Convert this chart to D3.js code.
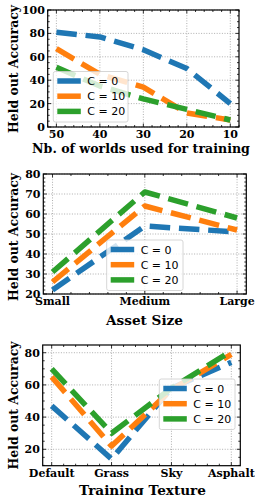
<!DOCTYPE html>
<html>
<head>
<meta charset="utf-8">
<script src="https://cdn.jsdelivr.net/npm/d3@7/dist/d3.min.js"></script>
<style>
  html, body { margin: 0; padding: 0; background: #fff; }
  svg { display: block; }
</style>
</head>
<body>
<svg id="chart" width="255" height="495"></svg>
<script>
// ---------- DATA ----------
const seriesNames = ["C = 0", "C = 10", "C = 20"];
const seriesColors = ["#1f77b4", "#ff7f0e", "#2ca02c"];

// Panel 1: number of worlds
const worlds = [50, 40, 30, 20, 10];
const worldsC0 = [81, 77, 66, 50, 20];
const worldsC10 = [67, 45, 34, 12, 6];
const worldsC20 = [51, 35, 24, 15, 6];
const worldsYTicks = [0, 20, 40, 60, 80, 100];
const worldsXTicks = [50, 40, 30, 20, 10];

// Panel 2: asset size
const assetSizes = ["Small", "Medium", "Large"];
const assetC0 = [22, 54, 51];
const assetC10 = [26, 64, 52];
const assetC20 = [31, 71, 58];
const assetYTicks = [20, 30, 40, 50, 60, 70, 80];

// Panel 3: training texture
const textures = ["Default", "Grass", "Sky", "Asphalt"];
const textureC0 = [47, 14, 58, 74];
const textureC10 = [65, 22, 57, 79];
const textureC20 = [70, 30, 58, 81];
const textureYTicks = [20, 40, 60, 80];

const yLabel = "Held out Accuracy";

// ---------- LAYOUT ----------
const panels = [
  {
    id: "p1", left: 47.7, right: 239, top: 10, bottom: 127,
    xDomain: [52, 8], yDomain: [0, 100],
    xVals: worlds, series: [worldsC0, worldsC10, worldsC20],
    xTicks: worldsXTicks, xFmt: d => d, yTicks: worldsYTicks,
    xMinor: 2, yMinor: 5,
    xLabel: "Nb. of worlds used for training", xLabelY: 152.5, xLabelW: 218, xLabelCx: 141,
    yLabelCy: 69, yLabelW: 128,
    legend: { x: 53.3, y: 71.5, w: 74.7, h: 50.5 }
  },
  {
    id: "p2", left: 43.3, right: 246.3, top: 174, bottom: 294,
    xDomain: [-0.1, 2.1], yDomain: [20, 80],
    xVals: assetSizes.map((d, i) => i), series: [assetC0, assetC10, assetC20],
    xTicks: assetSizes.map((d, i) => i), xFmt: i => assetSizes[i], yTicks: assetYTicks,
    xMinor: 0.2, yMinor: 2,
    xLabel: "Asset Size", xLabelY: 325, xLabelW: 77, xLabelCx: 144.5,
    yLabelCy: 237, yLabelW: 128,
    legend: { x: 106.7, y: 240, w: 76.3, h: 50.5 }
  },
  {
    id: "p3", left: 42.7, right: 240.3, top: 345, bottom: 465.7,
    xDomain: [-0.15, 3.15], yDomain: [9.8, 84.8],
    xVals: textures.map((d, i) => i), series: [textureC0, textureC10, textureC20],
    xTicks: textures.map((d, i) => i), xFmt: i => textures[i], yTicks: textureYTicks,
    xMinor: 0.2, yMinor: 5,
    xLabel: "Training Texture", xLabelY: 494.5, xLabelW: 127, xLabelCx: 142.5,
    yLabelCy: 405.5, yLabelW: 128,
    legend: { x: 159.3, y: 379, w: 75.7, h: 50.5 }
  }
];

const svg = d3.select("#chart");
const serif = "'DejaVu Serif', serif";
const sans = "'DejaVu Sans', sans-serif";

function minorTicks(domain, step, majors) {
  const lo = Math.min(domain[0], domain[1]), hi = Math.max(domain[0], domain[1]);
  const out = [];
  const start = Math.ceil(lo / step - 1e-9);
  for (let k = start; k * step <= hi + 1e-9; k++) {
    const v = +(k * step).toFixed(6);
    if (!majors.some(m => Math.abs(m - v) < 1e-6)) out.push(v);
  }
  return out;
}

function fitText(sel, baseSize, targetW) {
  sel.attr("font-size", baseSize);
  const w = sel.node().getComputedTextLength();
  if (w > 0) sel.attr("font-size", (baseSize * targetW / w).toFixed(2));
}

panels.forEach(p => {
  const x = d3.scaleLinear().domain(p.xDomain).range([p.left, p.right]);
  const y = d3.scaleLinear().domain(p.yDomain).range([p.bottom, p.top]);
  const g = svg.append("g").attr("class", p.id);

  // grid (dotted)
  g.append("g").selectAll("line").data(p.xTicks).join("line")
    .attr("x1", d => x(d)).attr("x2", d => x(d))
    .attr("y1", p.top).attr("y2", p.bottom)
    .attr("stroke", "#9a9a9a").attr("stroke-width", 0.8)
    .attr("stroke-dasharray", "1,1.6");
  g.append("g").selectAll("line").data(p.yTicks).join("line")
    .attr("x1", p.left).attr("x2", p.right)
    .attr("y1", d => y(d)).attr("y2", d => y(d))
    .attr("stroke", "#9a9a9a").attr("stroke-width", 0.8)
    .attr("stroke-dasharray", "1,1.6");

  // clip
  const clipId = "clip-" + p.id;
  svg.append("defs").append("clipPath").attr("id", clipId)
    .append("rect").attr("x", p.left).attr("y", p.top)
    .attr("width", p.right - p.left).attr("height", p.bottom - p.top);

  // lines
  const line = d3.line().x((d, i) => x(p.xVals[i])).y(d => y(d));
  const lg = g.append("g").attr("clip-path", `url(#${clipId})`);
  p.series.forEach((s, si) => {
    lg.append("path").datum(s).attr("d", line)
      .attr("fill", "none").attr("stroke", seriesColors[si])
      .attr("stroke-width", 5.5).attr("stroke-dasharray", "20.5,8.8")
      .attr("stroke-linecap", "butt").attr("stroke-linejoin", "round");
  });

  // ticks inward on all four sides
  const majorLen = 3.5, minorLen = 2;
  const xm = minorTicks(p.xDomain, p.xMinor, p.xTicks);
  const ym = minorTicks(p.yDomain, p.yMinor, p.yTicks);
  const tk = g.append("g").attr("stroke", "#000").attr("stroke-width", 0.8);
  [[p.xTicks, majorLen], [xm, minorLen]].forEach(([arr, len]) => {
    arr.forEach(v => {
      tk.append("line").attr("x1", x(v)).attr("x2", x(v)).attr("y1", p.bottom).attr("y2", p.bottom - len);
      tk.append("line").attr("x1", x(v)).attr("x2", x(v)).attr("y1", p.top).attr("y2", p.top + len);
    });
  });
  [[p.yTicks, majorLen], [ym, minorLen]].forEach(([arr, len]) => {
    arr.forEach(v => {
      tk.append("line").attr("y1", y(v)).attr("y2", y(v)).attr("x1", p.left).attr("x2", p.left + len);
      tk.append("line").attr("y1", y(v)).attr("y2", y(v)).attr("x1", p.right).attr("x2", p.right - len);
    });
  });

  // frame
  g.append("rect").attr("x", p.left).attr("y", p.top)
    .attr("width", p.right - p.left).attr("height", p.bottom - p.top)
    .attr("fill", "none").attr("stroke", "#000").attr("stroke-width", 1.2);

  // tick labels
  g.append("g").selectAll("text").data(p.xTicks).join("text")
    .attr("x", d => x(d)).attr("y", p.bottom + 11)
    .attr("text-anchor", "middle")
    .attr("font-family", serif).attr("font-weight", "bold").attr("font-size", 11)
    .text(p.xFmt);
  g.append("g").selectAll("text").data(p.yTicks).join("text")
    .attr("x", p.left - 2.8).attr("y", d => y(d) + 4)
    .attr("text-anchor", "end")
    .attr("font-family", serif).attr("font-weight", "bold").attr("font-size", 11)
    .text(d => d);

  // axis labels
  const xl = g.append("text").attr("x", p.xLabelCx).attr("y", p.xLabelY)
    .attr("text-anchor", "middle")
    .attr("font-family", serif).attr("font-weight", "bold")
    .text(p.xLabel);
  fitText(xl, 13.5, p.xLabelW);
  const yl = g.append("text")
    .attr("transform", `translate(17.5,${p.yLabelCy}) rotate(-90)`)
    .attr("text-anchor", "middle")
    .attr("font-family", serif).attr("font-weight", "bold")
    .text(yLabel);
  fitText(yl, 13.5, p.yLabelW);

  // legend
  const L = p.legend;
  const leg = g.append("g");
  leg.append("rect").attr("x", L.x).attr("y", L.y).attr("width", L.w).attr("height", L.h)
    .attr("rx", 2).attr("ry", 2)
    .attr("fill", "#fff").attr("fill-opacity", 0.8)
    .attr("stroke", "#cccccc").attr("stroke-width", 0.8);
  seriesNames.forEach((name, i) => {
    const cy = L.y + 9.5 + i * 15.2;
    leg.append("line").attr("x1", L.x + 4).attr("x2", L.x + 27.5)
      .attr("y1", cy).attr("y2", cy)
      .attr("stroke", seriesColors[i]).attr("stroke-width", 5.5);
    leg.append("text").attr("x", L.x + 34).attr("y", cy + 4)
      .attr("font-family", sans).attr("font-size", 11)
      .attr("fill", "#000")
      .text(name);
  });
});
</script>
</body>
</html>
